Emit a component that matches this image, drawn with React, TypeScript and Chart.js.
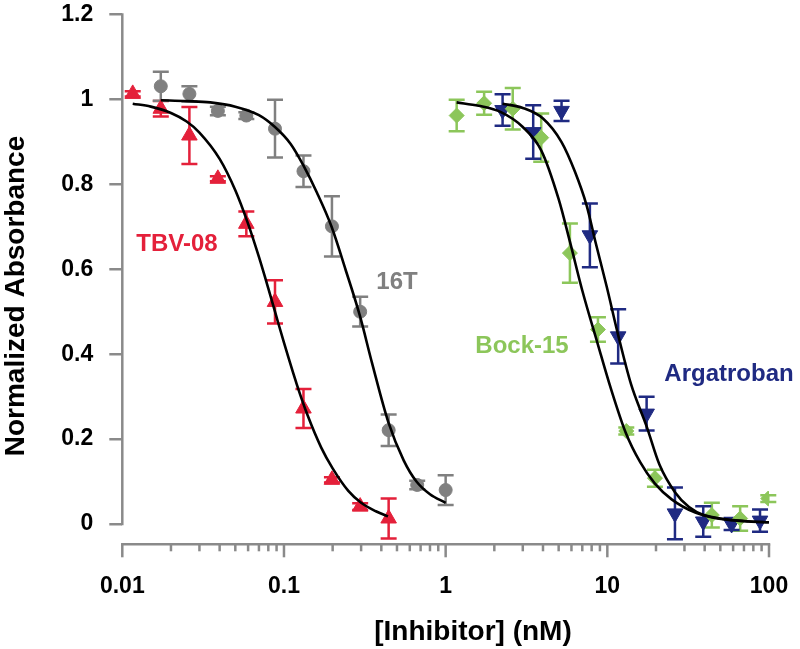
import React, { useEffect, useRef } from 'react';
import { Chart, registerables } from 'chart.js';

Chart.register(...registerables);

const tbvX = [0.0116, 0.0173, 0.026, 0.039, 0.0585, 0.088, 0.132, 0.198, 0.296, 0.444];
const tbvY = [1.013, 0.978, 0.915, 0.813, 0.707, 0.523, 0.272, 0.104, 0.041, 0.013];
const tbvErr = [0.006, 0.018, 0.067, 0.006, 0.029, 0.051, 0.046, 0.006, 0.008, 0.047];

const t16X = [0.0173, 0.026, 0.039, 0.0585, 0.088, 0.132, 0.198, 0.296, 0.444, 0.667, 1.0];
const t16Y = [1.031, 1.013, 0.973, 0.962, 0.931, 0.831, 0.701, 0.5, 0.221, 0.092, 0.08];
const t16Err = [0.034, 0.018, 0.01, 0.008, 0.068, 0.037, 0.071, 0.035, 0.037, 0.01, 0.035];

const bockX = [1.17, 1.73, 2.6, 3.9, 5.87, 8.75, 13.1, 19.7, 44.3, 66.3, 99];
const bockY = [0.962, 0.991, 0.978, 0.91, 0.638, 0.458, 0.219, 0.108, 0.021, 0.013, 0.06];
const bockErr = [0.037, 0.027, 0.049, 0.057, 0.07, 0.029, 0.008, 0.02, 0.029, 0.029, 0.008];

const argX = [2.25, 3.48, 5.21, 7.8, 11.67, 17.5, 26.2, 39.2, 58.7, 88];
const argY = [0.975, 0.923, 0.973, 0.68, 0.442, 0.26, 0.025, 0.006, 0.0, 0.008];
const argErr = [0.037, 0.063, 0.024, 0.075, 0.064, 0.04, 0.061, 0.036, 0.014, 0.026];

// ---- Fitted curves ----
const tbvFitX = [0.0116, 0.015, 0.02, 0.025, 0.03, 0.04, 0.05, 0.06, 0.07, 0.08, 0.09, 0.1, 0.12, 0.14, 0.17, 0.2, 0.25, 0.3, 0.37, 0.44];
const tbvFitY = [0.99, 0.983, 0.968, 0.948, 0.922, 0.86, 0.786, 0.707, 0.629, 0.555, 0.487, 0.427, 0.329, 0.256, 0.18, 0.131, 0.078, 0.05, 0.03, 0.018];

const t16FitX = [0.0173, 0.025, 0.035, 0.05, 0.07, 0.088, 0.11, 0.1316, 0.16, 0.197, 0.24, 0.295, 0.35, 0.442, 0.55, 0.66, 0.8, 1.0];
const t16FitY = [0.998, 0.996, 0.993, 0.983, 0.963, 0.935, 0.895, 0.845, 0.78, 0.7, 0.6, 0.49, 0.38, 0.24, 0.15, 0.1, 0.07, 0.05];

const bockFitX = [1.17, 1.6, 2.2, 3.0, 3.9, 5.0, 5.87, 7.0, 8.71, 10.5, 13, 16, 19.7, 25, 35, 50, 70, 100];
const bockFitY = [0.993, 0.985, 0.97, 0.935, 0.88, 0.765, 0.665, 0.55, 0.425, 0.32, 0.215, 0.145, 0.095, 0.058, 0.027, 0.013, 0.007, 0.004];

const argFitX = [2.25, 3.0, 4.0, 5.2, 6.3, 7.45, 8.5, 9.9, 11.67, 14, 17.5, 21, 26.2, 32, 40, 55, 75, 100];
const argFitY = [0.99, 0.98, 0.955, 0.9, 0.83, 0.75, 0.66, 0.56, 0.445, 0.33, 0.23, 0.14, 0.075, 0.04, 0.02, 0.01, 0.006, 0.004];

// ---- Axis ticks ----
const xMajorTicks = [0.01, 0.1, 1, 10, 100];
const xMajorLabels = ['0.01', '0.1', '1', '10', '100'];
const xMinorMultipliers = [2, 3, 4, 5, 6, 7, 8, 9];
const yTicks = [0, 0.2, 0.4, 0.6, 0.8, 1, 1.2];

const seriesNames = ['TBV-08', '16T', 'Bock-15', 'Argatroban'];
const RED = '#E4203A';
const GRAY = '#808080';
const GREEN = '#8CC65A';
const NAVY = '#1F2A82';
const AXIS = '#8A8A8A';
const FONT = "'Liberation Sans', Arial, Helvetica, sans-serif";

const pairs = (xs: number[], ys: number[]) => xs.map((x, i) => ({ x, y: ys[i] }));

const errorMap: Record<string, number[]> = {
  'TBV-08': tbvErr,
  '16T': t16Err,
  'Bock-15': bockErr,
  Argatroban: argErr,
};

const xTickList: { value: number; major: boolean }[] = [];
xMajorTicks.forEach((d, i) => {
  xTickList.push({ value: d, major: true });
  if (i < xMajorTicks.length - 1) xMinorMultipliers.forEach((m) => xTickList.push({ value: d * m, major: false }));
});

const errorBarPlugin = {
  id: 'errorBars',
  beforeDatasetsDraw(chart: any) {
    const { ctx } = chart;
    const xs = chart.scales.x;
    const ys = chart.scales.y;
    chart.data.datasets.forEach((ds: any) => {
      const errs = errorMap[ds.label];
      if (!errs) return;
      ctx.save();
      ctx.strokeStyle = ds.borderColor;
      ctx.lineWidth = 2.5;
      const cap = 8;
      ds.data.forEach((p: any, j: number) => {
        const e = errs[j];
        const px = xs.getPixelForValue(p.x);
        const y1 = ys.getPixelForValue(p.y + e);
        const y2 = ys.getPixelForValue(p.y - e);
        ctx.beginPath();
        ctx.moveTo(px, y1);
        ctx.lineTo(px, y2);
        ctx.moveTo(px - cap, y1);
        ctx.lineTo(px + cap, y1);
        ctx.moveTo(px - cap, y2);
        ctx.lineTo(px + cap, y2);
        ctx.stroke();
      });
      ctx.restore();
    });
  },
};

const axesPlugin = {
  id: 'customAxes',
  afterDraw(chart: any) {
    const { ctx, chartArea } = chart;
    const xs = chart.scales.x;
    const ys = chart.scales.y;
    ctx.save();
    ctx.strokeStyle = AXIS;
    ctx.lineWidth = 2.5;
    // y axis line from 0 to 1.2
    const yTop = ys.getPixelForValue(yTicks[yTicks.length - 1]);
    const yBot = ys.getPixelForValue(yTicks[0]);
    ctx.beginPath();
    ctx.moveTo(chartArea.left, yTop - 1.25);
    ctx.lineTo(chartArea.left, yBot + 1.25);
    ctx.stroke();
    // x axis line
    const by = chartArea.bottom;
    ctx.beginPath();
    ctx.moveTo(xs.getPixelForValue(xMajorTicks[0]) - 1.25, by);
    ctx.lineTo(xs.getPixelForValue(xMajorTicks[xMajorTicks.length - 1]) + 1.25, by);
    ctx.stroke();
    // x ticks (outward, downward)
    xTickList.forEach((t) => {
      const px = xs.getPixelForValue(t.value);
      ctx.beginPath();
      ctx.moveTo(px, by);
      ctx.lineTo(px, by + (t.major ? 13 : 7));
      ctx.stroke();
    });
    ctx.restore();

    // texts
    ctx.save();
    ctx.textAlign = 'center';
    ctx.textBaseline = 'middle';
    ctx.fillStyle = '#000';
    ctx.font = `bold 28px ${FONT}`;
    ctx.fillText('[Inhibitor] (nM)', 473, 632);
    ctx.save();
    ctx.translate(16, 296);
    ctx.rotate(-Math.PI / 2);
    ctx.fillText('Normalized Absorbance', 0, 0);
    ctx.restore();
    ctx.font = `bold 24px ${FONT}`;
    ctx.fillStyle = RED;
    ctx.fillText(seriesNames[0], 177, 244);
    ctx.fillStyle = GRAY;
    ctx.fillText(seriesNames[1], 397, 282);
    ctx.fillStyle = GREEN;
    ctx.fillText(seriesNames[2], 522, 346);
    ctx.fillStyle = NAVY;
    ctx.fillText(seriesNames[3], 729, 374);
    ctx.restore();
  },
};

export default function App() {
  const ref = useRef<HTMLCanvasElement | null>(null);

  useEffect(() => {
    if (!ref.current) return;
    const tickFont = { family: FONT, size: 23, weight: 'bold' as const };
    const pointSet = (label: string, xs: number[], ys: number[], color: string, style: string, radius: number, rotation = 0) => ({
      label,
      data: pairs(xs, ys),
      showLine: false,
      pointStyle: style,
      pointRadius: radius,
      pointRotation: rotation,
      backgroundColor: color,
      borderColor: color,
      pointBorderWidth: 1,
      order: 2,
    });
    const curveSet = (label: string, xs: number[], ys: number[]) => ({
      label,
      data: pairs(xs, ys),
      showLine: true,
      pointRadius: 0,
      borderColor: '#000',
      borderWidth: 2.6,
      cubicInterpolationMode: 'monotone' as const,
      fill: false,
      order: 1,
    });

    const chart = new Chart(ref.current, {
      type: 'scatter',
      data: {
        datasets: [
          pointSet(seriesNames[0], tbvX, tbvY, RED, 'triangle', 9),
          pointSet(seriesNames[1], t16X, t16Y, GRAY, 'circle', 6.5),
          pointSet(seriesNames[2], bockX, bockY, GREEN, 'rectRot', 7.5),
          pointSet(seriesNames[3], argX, argY, NAVY, 'triangle', 9, 180),
          curveSet('TBV-08 fit', tbvFitX, tbvFitY),
          curveSet('16T fit', t16FitX, t16FitY),
          curveSet('Bock-15 fit', bockFitX, bockFitY),
          curveSet('Argatroban fit', argFitX, argFitY),
        ] as any,
      },
      options: {
        animation: false,
        responsive: false,
        maintainAspectRatio: false,
        layout: { padding: { left: 0, right: 31, top: 14.5, bottom: 0 } },
        plugins: { legend: { display: false }, tooltip: { enabled: false }, title: { display: false } },
        scales: {
          x: {
            type: 'logarithmic',
            min: 0.01,
            max: 100,
            afterFit: (s: any) => {
              s.height = 104.7;
              s.paddingLeft = 0;
              s.paddingRight = 0;
            },
            afterBuildTicks: (s: any) => {
              s.ticks = xTickList.map((t) => ({ value: t.value, major: t.major }));
            },
            ticks: {
              autoSkip: false,
              maxRotation: 0,
              minRotation: 0,
              padding: 21,
              color: '#000',
              font: tickFont,
              callback: (v: any) => {
                const idx = xMajorTicks.findIndex((m) => Math.abs(Math.log10(m) - Math.log10(Number(v))) < 1e-6);
                return idx >= 0 ? xMajorLabels[idx] : '';
              },
            },
            grid: { display: false },
            border: { display: false },
          },
          y: {
            type: 'linear',
            min: -0.0478,
            max: 1.2,
            afterFit: (s: any) => {
              s.width = 122.3;
              s.paddingTop = 0;
              s.paddingBottom = 0;
            },
            afterBuildTicks: (s: any) => {
              s.ticks = yTicks.map((v) => ({ value: v }));
            },
            ticks: {
              padding: 16,
              color: '#000',
              font: tickFont,
              callback: (v: any) => String(+Number(v).toFixed(1)),
            },
            grid: {
              drawOnChartArea: false,
              drawTicks: true,
              tickLength: 13,
              color: AXIS,
              lineWidth: 2.5,
            },
            border: { display: false },
          },
        },
      } as any,
      plugins: [errorBarPlugin, axesPlugin],
    });
    return () => chart.destroy();
  }, []);

  return (
    <div style={{ position: 'fixed', left: 0, top: 0, width: 800, height: 649, background: '#fff' }}>
      <canvas ref={ref} width={800} height={649} style={{ display: 'block', width: 800, height: 649 }} />
    </div>
  );
}
